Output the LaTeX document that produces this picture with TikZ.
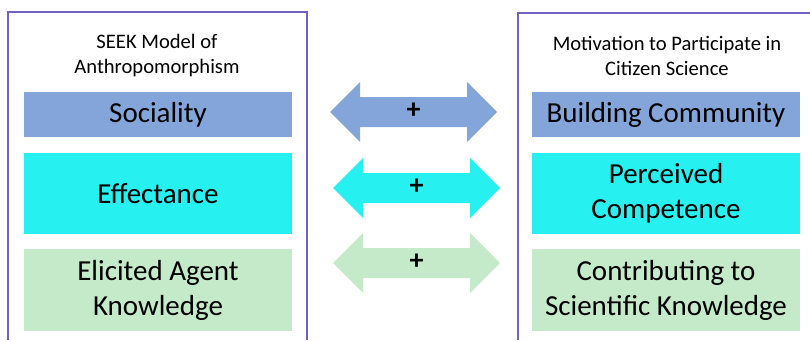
\documentclass[tikz,border=0pt]{standalone}
\usepackage{fontspec}
\setmainfont{Carlito}
\usetikzlibrary{positioning}

\definecolor{frameviolet}{RGB}{113,99,197}
\definecolor{socblue}{RGB}{132,165,217}
\definecolor{effcyan}{RGB}{38,240,240}
\definecolor{knowgreen}{RGB}{196,234,202}

\begin{document}
\begin{tikzpicture}[
    x=1pt, y=-1pt,
    frame/.style={draw=frameviolet, line width=2.4pt},
    title/.style={align=center, font=\fontsize{20.6}{25}\selectfont, inner sep=0pt},
    item/.style={
        draw=none, inner sep=0pt,
        minimum width=268pt,
        align=center, font=\fontsize{29}{35}\selectfont,
    },
    socitem/.style={item, fill=socblue},
    effitem/.style={item, fill=effcyan},
    knowitem/.style={item, fill=knowgreen},
    plus/.style={inner sep=0pt, font=\fontsize{28}{28}\selectfont\bfseries},
]
\useasboundingbox (0,0) rectangle (810,340);

% ============ FRAMES ============
\draw[frame] (8,340) -- (8,12) -- (307,12) -- (307,340);
\draw[frame] (518,340) -- (518,13) -- (810,13);

% ============ TITLES ============
\node[title] (seek) at (157,56) {SEEK Model of\\Anthropomorphism};
\node[title] (motiv) at (667,56) {Motivation to Participate in\\Citizen Science};

% ============ LEFT COLUMN ============
\node[socitem, minimum height=45pt]  (sociality) at (158,114.5) {Sociality};
\node[effitem, minimum height=81pt]  (effectance) at (158,193.5) {Effectance};
\node[knowitem, minimum height=82pt] (agent) at (158,290) {Elicited Agent\\Knowledge};

% ============ RIGHT COLUMN ============
\node[socitem, minimum height=45pt]  (community) at (666,114.5) {Building Community};
\node[effitem, minimum height=81pt]  (competence) at (666,193.5) {Perceived\\Competence};
\node[knowitem, minimum height=82pt] (contrib) at (666,290) {Contributing to\\Scientific Knowledge};

% ============ LINKS (block double arrows) ============
\foreach \name/\col/\cx/\cy in {linksoc/socblue/413.5/112, linkeff/effcyan/416.5/188, linkknow/knowgreen/416.5/263}{
    \coordinate (\name) at (\cx,\cy);
    \fill[\col] (\name) ++(-83.5,0) -- ++(30,-30) -- ++(0,15) -- ++(107,0)
        -- ++(0,-15) -- ++(30,30) -- ++(-30,30) -- ++(0,-15) -- ++(-107,0)
        -- ++(0,15) -- cycle;
    \node[plus] at ([yshift=1pt]\name) {+};
}

\end{tikzpicture}
\end{document}
